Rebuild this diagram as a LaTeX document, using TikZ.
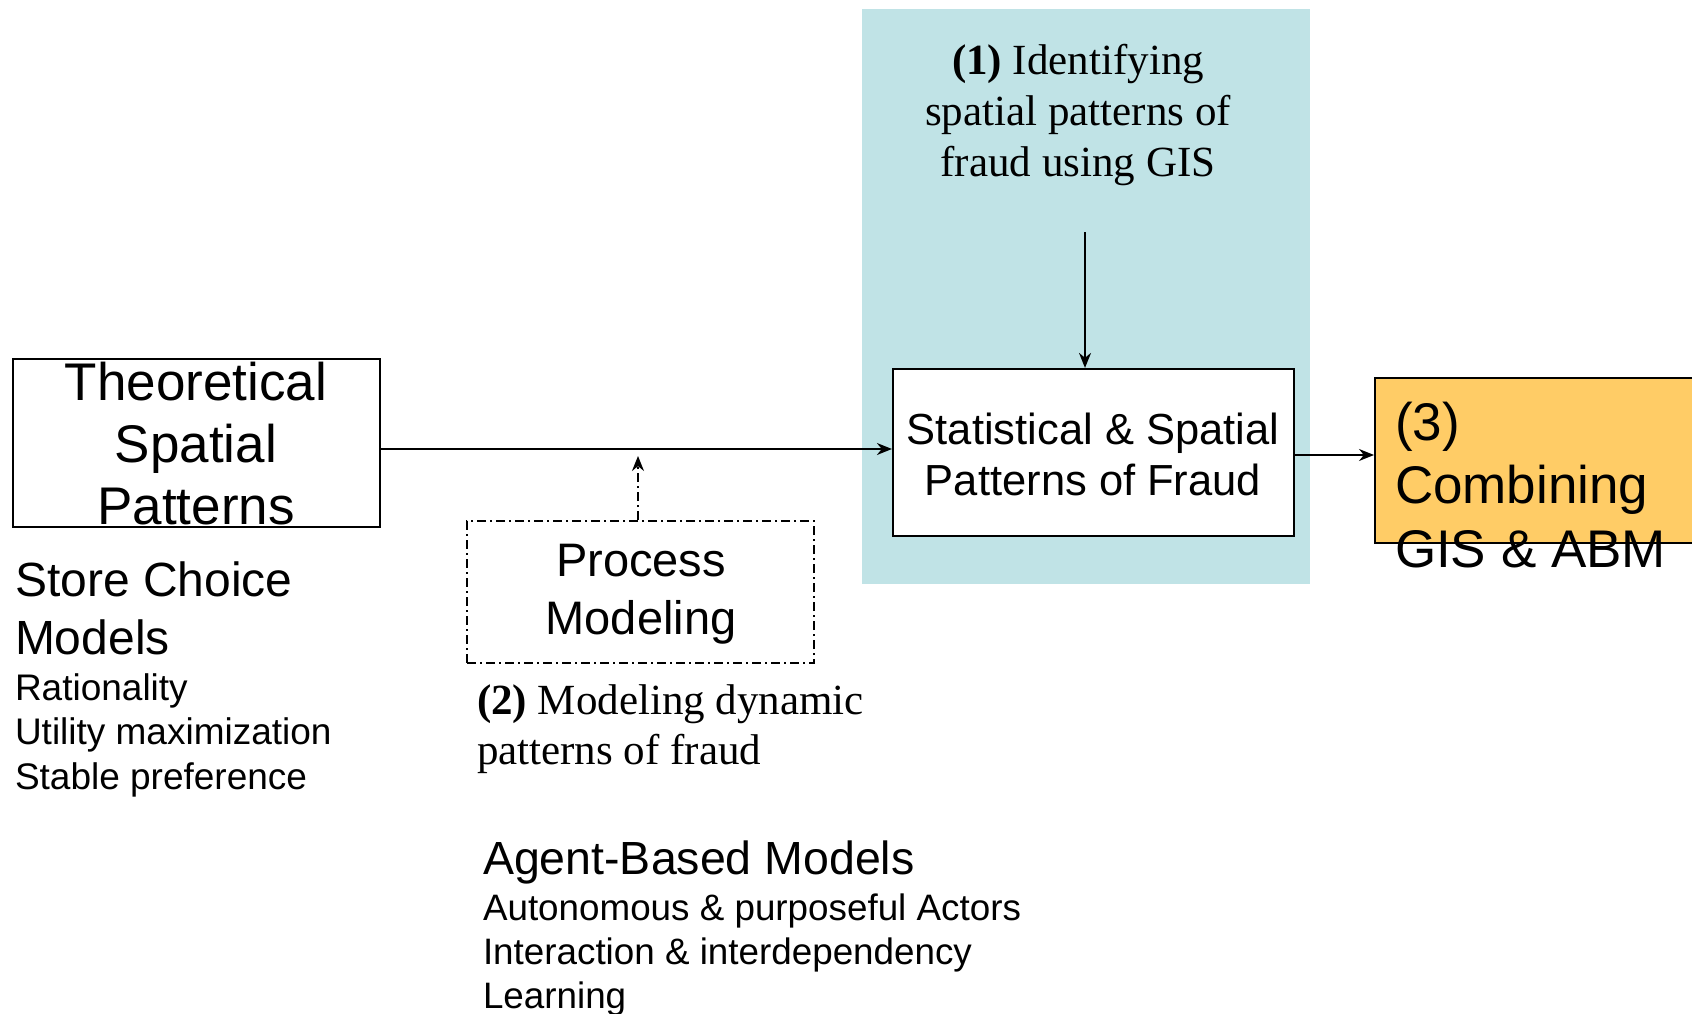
\documentclass[tikz,border=0pt]{standalone}
\usepackage{fontspec}
\setmainfont{Liberation Sans}
\newfontfamily\serif{Liberation Serif}
\usetikzlibrary{arrows.meta}
\definecolor{panelteal}{RGB}{192,227,230}
\definecolor{comboorange}{RGB}{255,204,102}
\tikzset{
  box/.style={draw=black, line width=2.2pt, inner sep=0pt},
  txt/.style={inner sep=0pt, outer sep=0pt},
  conn/.style={line width=1.8pt, -{Stealth[length=15pt,width=12pt]}},
  dashdot/.style={dash pattern=on 9pt off 4pt on 2pt off 4pt}
}
\newcommand{\fs}[2]{\fontsize{#1}{#2}\selectfont}
\begin{document}
\begin{tikzpicture}[x=1pt,y=-1pt]
\useasboundingbox (0,0) rectangle (1692,1014);
\clip (0,0) rectangle (1692,1014);
% teal panel
\fill[panelteal] (862,9) rectangle (1310,584);
% boxes
\node[box, minimum width=367pt, minimum height=168pt] (theo) at (196.5,443) {};
\node[box, fill=white, minimum width=401pt, minimum height=167pt] (stat) at (1093.5,452.5) {};
\node[box, fill=comboorange, minimum width=400pt, minimum height=165pt, anchor=north west] (combo) at (1374,377) {};
\node[box, line width=1.8pt, dashdot, minimum width=347pt, minimum height=142pt] (proc) at (640.5,592) {};
% texts in boxes (base anchor = last line baseline)
\node[txt, anchor=base, align=center, font=\fs{53}{62}] (theot) at (196,524) {Theoretical\\Spatial\\Patterns};
\node[txt, anchor=base, align=center, font=\fs{43.5}{51}] (statt) at (1093,495) {Statistical \& Spatial\\Patterns of Fraud};
\node[txt, anchor=base west, align=left, font=\fs{53}{63.5}] (combot) at (1395,567) {(3)\\Combining\\GIS \& ABM};
\node[txt, anchor=base, align=center, font=\fs{47}{58}] (proct) at (641,634) {Process\\Modeling};
% serif captions
\node[txt, anchor=base, align=center, font=\serif\fs{43}{51}] (cap1) at (1078,176) {\textbf{(1)} Identifying\\spatial patterns of\\fraud using GIS};
\node[txt, anchor=base west, align=left, font=\serif\fs{43}{50}] (cap2) at (477,764) {\textbf{(2)} Modeling dynamic\\patterns of fraud};
% left lists
\node[txt, anchor=base west, align=left, font=\fs{48}{58}] (store) at (15,654) {Store Choice\\Models};
\node[txt, anchor=base west, align=left, font=\fs{37}{44.5}] (storel) at (15,789) {Rationality\\Utility maximization\\Stable preference};
\node[txt, anchor=base west, align=left, font=\fs{46.5}{52}] (abm) at (483,874) {Agent-Based Models};
\node[txt, anchor=base west, align=left, font=\fs{36.8}{44}] (abml) at (483,1008) {Autonomous \& purposeful Actors\\Interaction \& interdependency\\Learning};
% connectors
\coordinate (topstart) at (1085,232);
\coordinate (ptip) at (638,456);
\draw[conn] ([yshift=3.5pt]theo.east |- stat.west) -- ([yshift=3.5pt]stat.west);
\draw[conn] ([yshift=-2.5pt]stat.east) -- ([yshift=-2.5pt]stat.east -| combo.west);
\draw[conn] (topstart) -- (topstart |- stat.north);
\draw[conn, dashdot] (proc.north -| ptip) -- (ptip);
\end{tikzpicture}
\end{document}
